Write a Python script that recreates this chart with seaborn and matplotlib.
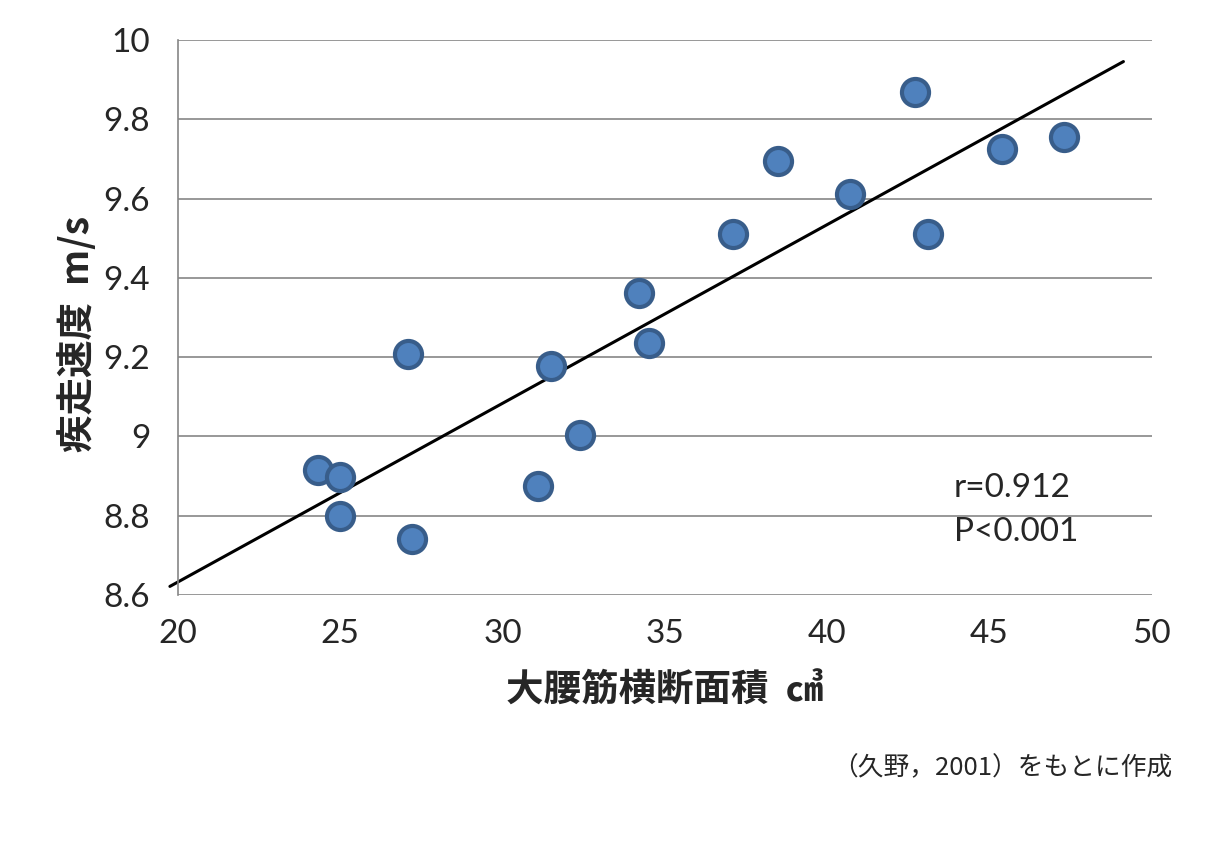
import numpy as np
import pandas as pd
import matplotlib
matplotlib.use('Agg')
import matplotlib.pyplot as plt
import seaborn as sns

# Data
psoas_area = [24.3, 25.0, 25.0, 27.1, 27.2, 31.1, 31.5, 32.4, 34.2, 34.5,
              37.1, 38.5, 40.7, 42.7, 43.1, 45.4, 47.3]
sprint_speed = [8.915, 8.898, 8.800, 9.208, 8.741, 8.875, 9.178, 9.004, 9.362, 9.236,
                9.511, 9.695, 9.611, 9.869, 9.511, 9.725, 9.755]
line_range = [19.75, 49.13]
y_ticks = [8.6, 8.8, 9.0, 9.2, 9.4, 9.6, 9.8, 10.0]
y_tick_labels = ['8.6', '8.8', '9', '9.2', '9.4', '9.6', '9.8', '10']
x_ticks = [20, 25, 30, 35, 40, 45, 50]

df = pd.DataFrame({'area': psoas_area, 'speed': sprint_speed})

sns.set_style('white')
plt.rcParams['font.family'] = ['Noto Sans CJK JP', 'DejaVu Sans']

fig = plt.figure(figsize=(12.11, 8.5), dpi=100)
ax = fig.add_axes([0.147, 0.30, 0.804, 0.653])

for y in y_ticks:
    ax.axhline(y, color='#868686', lw=1.2, zorder=0)

# linear trend line
slope, intercept = np.polyfit(df['area'], df['speed'], 1)
lx = np.array(line_range)
ax.plot(lx, slope * lx + intercept, color='black', lw=2.2, clip_on=False, zorder=2)

sns.scatterplot(data=df, x='area', y='speed', ax=ax, s=380, color='#4f81bd',
                edgecolor='#385d8a', linewidth=3, zorder=3, clip_on=False)

ax.set_xlim(20, 50)
ax.set_ylim(8.6, 10)
ax.set_xticks(x_ticks)
ax.set_yticks(y_ticks)
ax.set_yticklabels(y_tick_labels)
ax.tick_params(length=0)
ax.tick_params(axis='x', pad=17)
ax.tick_params(axis='y', pad=20)
for lab in ax.get_xticklabels() + ax.get_yticklabels():
    lab.set_fontfamily('Lato')
    lab.set_fontsize(24)
for s in ['top', 'right', 'bottom']:
    ax.spines[s].set_visible(False)
ax.spines['left'].set_color('#868686')
ax.spines['left'].set_linewidth(1.2)

ax.set_xlabel('大腰筋横断面積  ㎤', fontsize=27, fontweight='bold', labelpad=16)
ax.set_ylabel('疾走速度  m/s', fontsize=27, fontweight='bold')
ax.yaxis.set_label_coords(-0.083, 0.47)

ax.text(43.9, 8.735, 'r=0.912\nP<0.001', fontsize=24, linespacing=1.6,
        family='Lato')
fig.text(0.968, 0.088, '（久野，2001）をもとに作成', fontsize=18.5, ha='right')

fig.savefig('out.png', dpi=100)
